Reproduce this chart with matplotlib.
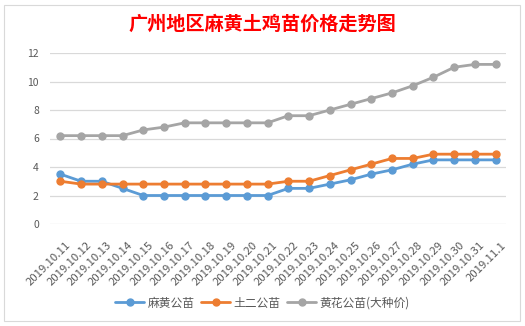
import matplotlib
matplotlib.use("Agg")
import matplotlib.pyplot as plt
from matplotlib.patches import Rectangle
import matplotlib.transforms as mtransforms

plt.rcParams['font.family'] = ['Noto Sans CJK SC', 'DejaVu Sans']

dates = ["2019.10.11", "2019.10.12", "2019.10.13", "2019.10.14", "2019.10.15",
         "2019.10.16", "2019.10.17", "2019.10.18", "2019.10.19", "2019.10.20",
         "2019.10.21", "2019.10.22", "2019.10.23", "2019.10.24", "2019.10.25",
         "2019.10.26", "2019.10.27", "2019.10.28", "2019.10.29", "2019.10.30",
         "2019.10.31", "2019.11.1"]
mahuang = [3.5, 3.0, 3.0, 2.5, 2.0, 2.0, 2.0, 2.0, 2.0, 2.0, 2.0,
           2.5, 2.5, 2.8, 3.1, 3.5, 3.8, 4.2, 4.5, 4.5, 4.5, 4.5]
tuer = [3.0, 2.8, 2.8, 2.8, 2.8, 2.8, 2.8, 2.8, 2.8, 2.8, 2.8,
        3.0, 3.0, 3.4, 3.8, 4.2, 4.6, 4.6, 4.9, 4.9, 4.9, 4.9]
huanghua = [6.2, 6.2, 6.2, 6.2, 6.6, 6.8, 7.1, 7.1, 7.1, 7.1, 7.1,
            7.6, 7.6, 8.0, 8.4, 8.8, 9.2, 9.7, 10.3, 11.0, 11.2, 11.2]
series_names = ["麻黄公苗", "土二公苗", "黄花公苗(大种价)"]
colors = ["#5B9BD5", "#ED7D31", "#A5A5A5"]
yticks = [0, 2, 4, 6, 8, 10, 12]

fig = plt.figure(figsize=(5.25, 3.26), dpi=100)
fig.patch.set_facecolor("white")
fig.add_artist(Rectangle((4/525, 1-321/326), 516/525, 316/326, transform=fig.transFigure,
                         fill=False, edgecolor="#D9D9D9", linewidth=0.8))

ax = fig.add_axes([50/525, 1-224/326, 456/525, 171/326])
x = list(range(len(dates)))
for vals, name, c in zip([mahuang, tuer, huanghua], series_names, colors):
    ax.plot(x, vals, color=c, linewidth=2.0, marker="o", markersize=5, label=name,
            solid_capstyle="round")

ax.set_xlim(-0.5, len(dates) - 0.5)
ax.set_ylim(0, 12)
ax.set_yticks(yticks)
ax.set_yticklabels([str(v) for v in yticks])
ax.yaxis.grid(True, color="#D9D9D9", linewidth=0.9)
ax.set_axisbelow(True)
for s in ax.spines.values():
    s.set_visible(False)
ax.tick_params(axis="both", length=0, labelsize=7.5, colors="#595959", pad=8)
ax.set_xticks(x)
ax.set_xticklabels(dates, rotation=45, ha="right", va="top", rotation_mode="anchor",
                   fontsize=8.2, color="#595959")
offset = mtransforms.ScaledTranslation(5/100, -5/100, fig.dpi_scale_trans)
for lab in ax.get_xticklabels():
    lab.set_transform(lab.get_transform() + offset)

fig.text(0.5, 1-24/326, "广州地区麻黄土鸡苗价格走势图", ha="center", va="center",
         color="#FF0000", fontsize=13.8, fontweight="bold")

fig.legend(loc="center", bbox_to_anchor=(0.5, 1-303/326), ncol=3, frameon=False,
           fontsize=8.5, labelcolor="#595959", handlelength=2.4, handletextpad=0.3,
           columnspacing=0.6)

fig.savefig("out.png", dpi=100)
